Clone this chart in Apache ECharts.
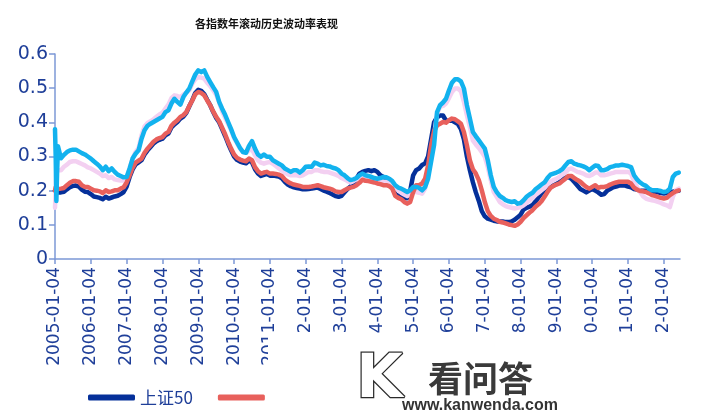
<!DOCTYPE html>
<html>
<head>
<meta charset="utf-8">
<script src="https://cdn.jsdelivr.net/npm/echarts@6/dist/echarts.min.js"></script>
<style>html,body{margin:0;padding:0;background:#fff;}#c{width:703px;height:418px;}</style>
</head>
<body>
<div id="c"></div>
<script>
// ---- data ----
const titleText = '各指数年滚动历史波动率表现';
const seriesNames = ['上证50', '沪深300', '中证500', '中证1000'];
const yearTicks = [2005,2006,2007,2008,2009,2010,2011,2012,2013,2014,2015,2016,2017,2018,2019,2020,2021,2022];
const earlyDates = ['2005-01-04','2005-01-11','2005-01-18','2005-01-25'];
// then one observation per month, on the 4th, from 2005-02 to 2022-06
const monthlyStart = [2005, 2];
const monthlyEnd = [2022, 6];

const sz50 = [0.2,0.205,0.2,0.2,
0.195,0.195,0.197,0.204,0.21,0.214,0.215,0.212,0.203,0.197,0.196,0.19,
0.183,0.181,0.179,0.175,0.182,0.177,0.18,0.183,0.185,0.19,0.196,0.212,
0.24,0.262,0.277,0.283,0.289,0.306,0.318,0.328,0.338,0.345,0.349,0.352,
0.362,0.367,0.385,0.394,0.401,0.411,0.417,0.428,0.447,0.465,0.486,0.495,
0.492,0.483,0.466,0.45,0.43,0.413,0.4,0.38,0.36,0.338,0.318,0.3,
0.29,0.285,0.282,0.28,0.288,0.283,0.263,0.25,0.243,0.246,0.249,0.244,
0.244,0.243,0.241,0.236,0.226,0.218,0.213,0.21,0.208,0.206,0.204,0.204,
0.205,0.206,0.208,0.209,0.205,0.2,0.197,0.193,0.189,0.184,0.182,0.185,
0.195,0.205,0.212,0.222,0.235,0.25,0.255,0.258,0.26,0.257,0.26,0.255,
0.245,0.24,0.235,0.225,0.21,0.19,0.185,0.18,0.18,0.178,0.2,0.245,
0.26,0.265,0.275,0.28,0.3,0.35,0.4,0.415,0.42,0.42,0.405,0.405,
0.405,0.4,0.395,0.38,0.35,0.3,0.26,0.225,0.195,0.17,0.14,0.125,
0.118,0.115,0.112,0.11,0.11,0.11,0.108,0.108,0.11,0.115,0.122,0.13,
0.145,0.15,0.153,0.158,0.168,0.18,0.192,0.2,0.205,0.21,0.215,0.22,
0.225,0.232,0.238,0.24,0.235,0.225,0.215,0.205,0.2,0.195,0.2,0.205,
0.2,0.195,0.188,0.19,0.2,0.205,0.21,0.212,0.215,0.215,0.215,0.212,
0.21,0.205,0.203,0.2,0.2,0.2,0.198,0.197,0.196,0.195,0.193,0.192,
0.193,0.195,0.197,0.199,0.2];

const hs300 = [0.2,0.21,0.205,0.205,
0.205,0.206,0.208,0.216,0.223,0.228,0.228,0.226,0.216,0.211,0.211,0.206,
0.201,0.2,0.198,0.193,0.201,0.196,0.198,0.201,0.201,0.206,0.21,0.224,
0.245,0.267,0.282,0.288,0.294,0.311,0.323,0.333,0.343,0.35,0.354,0.357,
0.367,0.372,0.39,0.399,0.406,0.416,0.421,0.43,0.448,0.464,0.482,0.489,
0.486,0.479,0.464,0.45,0.432,0.416,0.403,0.384,0.365,0.343,0.323,0.306,
0.296,0.291,0.288,0.286,0.294,0.289,0.269,0.257,0.25,0.253,0.255,0.25,
0.25,0.249,0.247,0.243,0.233,0.226,0.221,0.218,0.216,0.214,0.211,0.211,
0.211,0.212,0.214,0.216,0.213,0.21,0.208,0.206,0.203,0.198,0.196,0.196,
0.201,0.206,0.209,0.211,0.216,0.223,0.232,0.229,0.228,0.226,0.224,0.221,
0.219,0.216,0.216,0.213,0.206,0.185,0.179,0.175,0.167,0.162,0.167,0.196,
0.216,0.216,0.221,0.235,0.274,0.333,0.374,0.391,0.396,0.401,0.399,0.406,
0.411,0.409,0.403,0.396,0.372,0.333,0.289,0.263,0.25,0.231,0.201,0.167,
0.14,0.126,0.118,0.114,0.109,0.107,0.104,0.101,0.099,0.097,0.101,0.109,
0.12,0.128,0.136,0.143,0.153,0.16,0.169,0.182,0.196,0.208,0.214,0.218,
0.221,0.228,0.235,0.243,0.243,0.237,0.231,0.226,0.218,0.211,0.206,0.211,
0.216,0.208,0.211,0.211,0.213,0.218,0.221,0.224,0.226,0.226,0.226,0.226,
0.221,0.209,0.203,0.199,0.198,0.196,0.192,0.187,0.185,0.182,0.179,0.177,
0.179,0.187,0.193,0.198,0.201];

const zz500 = [0.38,0.30,0.17,0.25,
0.33,0.295,0.305,0.313,0.318,0.32,0.32,0.315,0.31,0.306,0.30,0.294,
0.286,0.279,0.271,0.26,0.27,0.257,0.265,0.255,0.247,0.243,0.239,0.24,
0.265,0.294,0.308,0.318,0.352,0.377,0.39,0.396,0.401,0.406,0.411,0.416,
0.43,0.435,0.455,0.469,0.46,0.452,0.474,0.487,0.499,0.52,0.54,0.552,
0.547,0.552,0.533,0.518,0.503,0.489,0.46,0.44,0.422,0.401,0.38,0.357,
0.341,0.325,0.313,0.311,0.331,0.345,0.323,0.306,0.299,0.306,0.299,0.299,
0.289,0.284,0.279,0.274,0.265,0.26,0.255,0.26,0.26,0.253,0.26,0.27,
0.271,0.27,0.282,0.279,0.274,0.276,0.272,0.271,0.267,0.265,0.26,0.25,
0.245,0.237,0.231,0.233,0.237,0.245,0.25,0.245,0.243,0.24,0.237,0.235,
0.237,0.24,0.239,0.235,0.228,0.216,0.209,0.206,0.201,0.196,0.201,0.211,
0.211,0.208,0.201,0.211,0.235,0.284,0.333,0.43,0.45,0.458,0.469,0.494,
0.516,0.526,0.526,0.52,0.499,0.45,0.411,0.372,0.359,0.347,0.335,0.323,
0.289,0.245,0.211,0.196,0.185,0.179,0.172,0.169,0.167,0.169,0.162,0.164,
0.172,0.182,0.189,0.194,0.204,0.211,0.218,0.224,0.237,0.247,0.25,0.253,
0.257,0.263,0.274,0.284,0.286,0.279,0.276,0.274,0.271,0.267,0.26,0.267,
0.274,0.272,0.26,0.26,0.263,0.269,0.271,0.274,0.274,0.276,0.274,0.272,
0.269,0.245,0.233,0.224,0.218,0.214,0.206,0.201,0.201,0.201,0.199,0.196,
0.198,0.206,0.24,0.25,0.253];

const zz1000 = [0.15,0.2,0.27,0.26,
0.255,0.26,0.27,0.276,0.284,0.286,0.286,0.282,0.278,0.274,0.268,0.265,
0.26,0.255,0.25,0.243,0.245,0.237,0.24,0.233,0.231,0.23,0.23,0.235,
0.265,0.294,0.313,0.325,0.362,0.388,0.398,0.403,0.409,0.416,0.423,0.428,
0.44,0.452,0.471,0.479,0.477,0.474,0.481,0.487,0.494,0.513,0.526,0.533,
0.531,0.528,0.516,0.506,0.494,0.481,0.458,0.432,0.413,0.395,0.377,0.354,
0.338,0.323,0.313,0.311,0.318,0.321,0.304,0.289,0.282,0.279,0.282,0.284,
0.279,0.272,0.265,0.259,0.253,0.248,0.245,0.245,0.245,0.243,0.245,0.25,
0.255,0.255,0.26,0.26,0.257,0.255,0.255,0.253,0.25,0.247,0.243,0.237,
0.233,0.228,0.224,0.228,0.233,0.24,0.243,0.237,0.239,0.235,0.233,0.231,
0.229,0.226,0.226,0.224,0.22,0.208,0.201,0.194,0.189,0.184,0.189,0.198,
0.196,0.194,0.191,0.206,0.245,0.294,0.362,0.425,0.445,0.448,0.455,0.471,
0.489,0.499,0.499,0.491,0.46,0.421,0.386,0.347,0.335,0.325,0.313,0.299,
0.269,0.231,0.196,0.182,0.167,0.16,0.155,0.152,0.15,0.148,0.15,0.152,
0.157,0.164,0.172,0.179,0.187,0.194,0.201,0.208,0.218,0.226,0.231,0.235,
0.24,0.247,0.253,0.262,0.265,0.26,0.255,0.253,0.25,0.245,0.243,0.247,
0.253,0.253,0.245,0.245,0.247,0.25,0.252,0.255,0.255,0.255,0.255,0.255,
0.25,0.226,0.211,0.196,0.184,0.177,0.174,0.172,0.17,0.167,0.164,0.16,
0.157,0.152,0.182,0.201,0.206];

// ---- build ----
const dates = earlyDates.slice();
for (let y = monthlyStart[0], m = monthlyStart[1]; y < monthlyEnd[0] || (y === monthlyEnd[0] && m <= monthlyEnd[1]); ) {
  dates.push(y + '-' + String(m).padStart(2, '0') + '-04');
  m++; if (m > 12) { m = 1; y++; }
}
function toYear(d) {
  const p = d.split('-').map(Number);
  return p[0] + (p[1] - 1) / 12 + (p[2] - 4) / 365;
}
function pairs(vals) {
  const n = Math.min(vals.length, dates.length);
  const out = [];
  for (let i = 0; i < n; i++) out.push([toYear(dates[i]), vals[i]]);
  return out;
}

const colors = ['#05309A', '#E8605C', '#12B2EE', '#F3D0F1'];
const labelColor = '#1F3F99';
const axisColor = '#7C98D6';

const chart = echarts.init(document.getElementById('c'), null, { renderer: 'canvas' });
function mkSeries(name, vals, color, z) {
  return {
    name: name, type: 'line', data: pairs(vals), showSymbol: false, symbol: 'none',
    z: z, lineStyle: { width: 4.5, color: color, join: 'round', cap: 'round' },
    itemStyle: { color: color }, animation: false
  };
}
chart.setOption({
  animation: false,
  backgroundColor: '#ffffff',
  title: {
    text: titleText, left: 190, top: 13,
    textStyle: { fontSize: 11, fontWeight: 'bold', color: '#111', fontFamily: '"Noto Sans CJK SC", sans-serif' }
  },
  legend: {
    data: seriesNames, left: 83, top: 384, itemWidth: 47, itemHeight: 6, itemGap: 25,
    icon: 'roundRect',
    textStyle: { fontSize: 17, color: labelColor, fontFamily: '"Noto Sans CJK SC", sans-serif' }
  },
  grid: { left: 55, right: 23, top: 54, bottom: 159, containLabel: false },
  xAxis: {
    type: 'value', min: 2005, max: 2022.45, interval: 1,
    axisLine: { show: true, lineStyle: { color: axisColor, width: 1.5 } },
    axisTick: { show: true, length: 5, lineStyle: { color: axisColor, width: 1.5 }, customValues: yearTicks },
    axisLabel: {
      rotate: 90, margin: 8, fontSize: 17, color: labelColor, fontFamily: '"DejaVu Sans", sans-serif',
      customValues: yearTicks,
      formatter: function (v) { return Math.round(v) + '-01-04'; }
    },
    splitLine: { show: false }
  },
  yAxis: {
    type: 'value', min: 0, max: 0.6, interval: 0.1,
    axisLine: { show: true, lineStyle: { color: axisColor, width: 1.5 } },
    axisTick: { show: true, length: 6, lineStyle: { color: axisColor, width: 1.5 } },
    axisLabel: {
      margin: 7, fontSize: 19, color: labelColor, fontFamily: '"DejaVu Sans", sans-serif',
      formatter: function (v) { return String(Math.round(v * 10) / 10); }
    },
    splitLine: { show: false }
  },
  series: [
    mkSeries(seriesNames[0], sz50, colors[0], 2),
    mkSeries(seriesNames[1], hs300, colors[1], 4),
    mkSeries(seriesNames[2], zz500, colors[2], 5),
    mkSeries(seriesNames[3], zz1000, colors[3], 3)
  ],
  graphic: [
    { type: 'rect', left: 268, top: 333, z: 100, shape: { width: 435, height: 85 }, style: { fill: '#ffffff' } },
    { type: 'text', left: 355, top: 350, z: 101,
      style: { text: 'K', font: 'bold 60px "DejaVu Sans"', fill: '#ffffff', stroke: '#2a2a2a', lineWidth: 2.5 } },
    { type: 'text', left: 428, top: 361, z: 101,
      style: { text: '看问答', font: 'bold 35px "Noto Sans CJK SC"', fill: '#3a3a3a' } },
    { type: 'text', left: 402, top: 398, z: 101,
      style: { text: 'www.kanwenda.com', font: 'bold 16px "Liberation Sans"', fill: '#333333' } }
  ]
});
</script>
</body>
</html>
